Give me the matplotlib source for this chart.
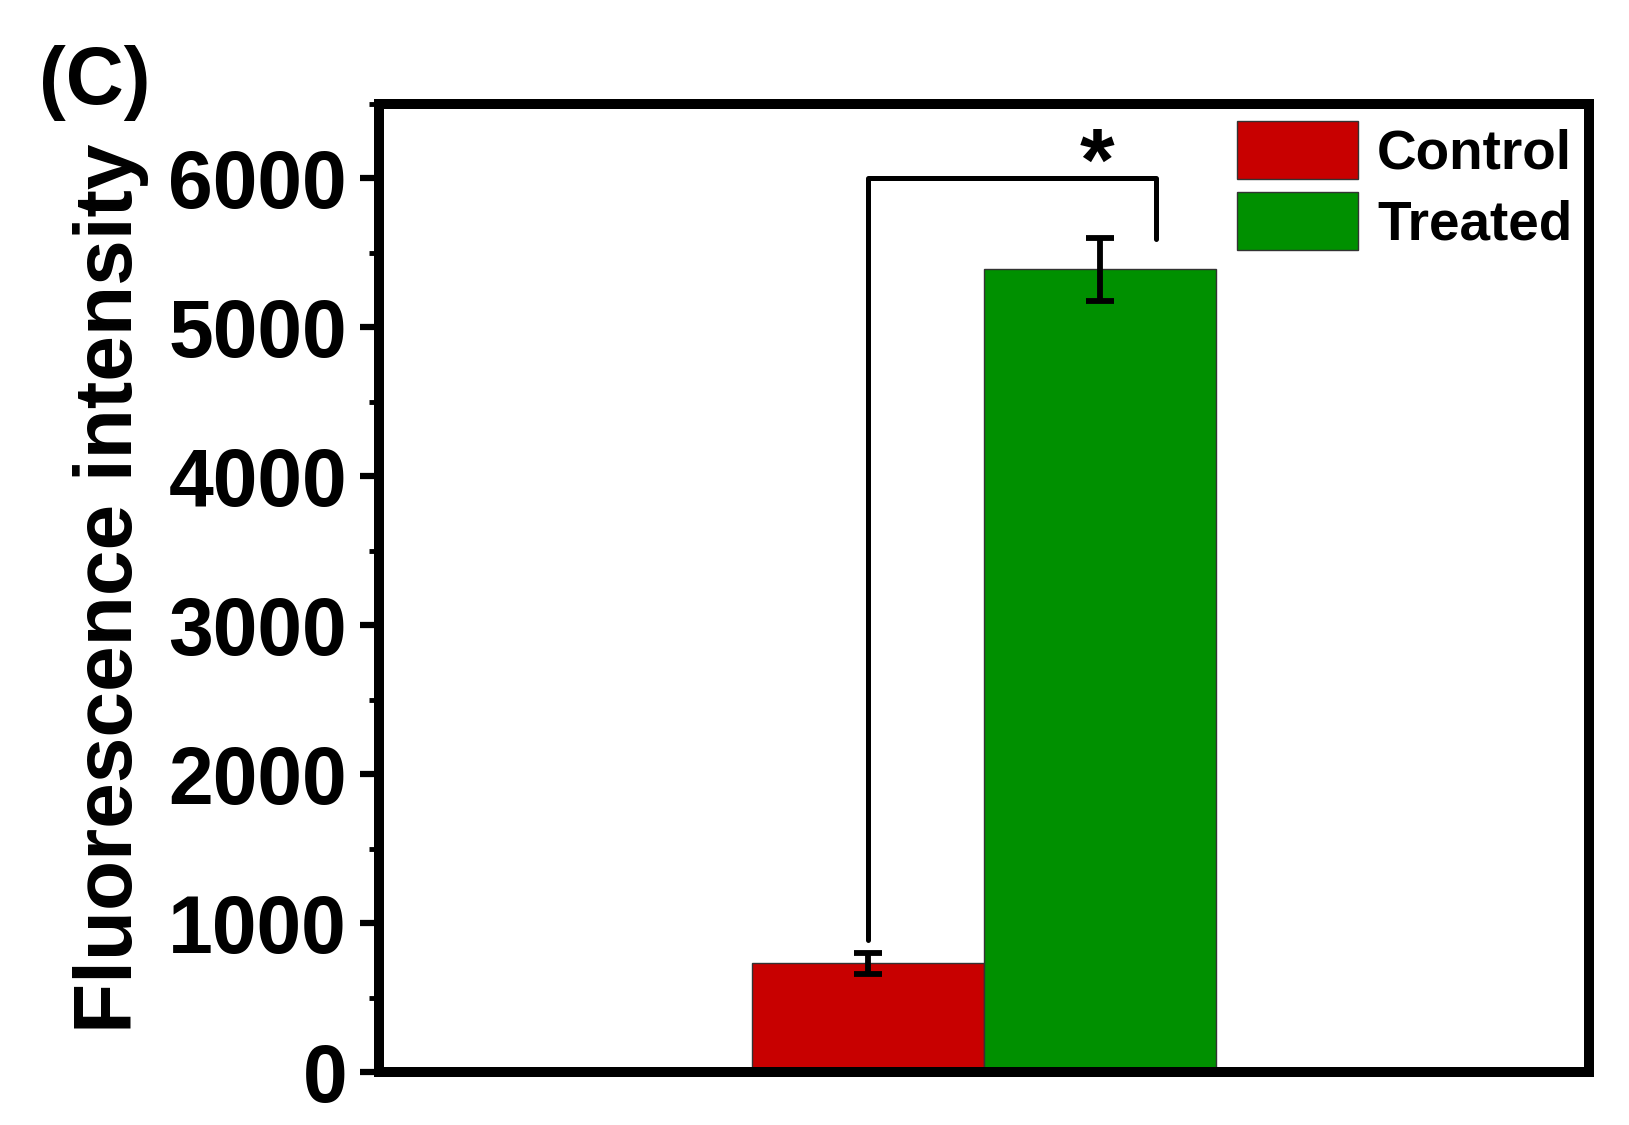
import matplotlib
matplotlib.use("Agg")
import matplotlib.pyplot as plt
from matplotlib.ticker import MultipleLocator

# ---- data ----
groups = ["Control", "Treated"]
means = [730, 5390]
errors = [70, 210]
bar_colors = ["#C80000", "#009000"]
yticks = [0, 1000, 2000, 3000, 4000, 5000, 6000]
ylabel = "Fluorescence intensity"
panel = "(C)"
sig_label = "*"
# significance bracket: left leg bottom, top, right leg bottom (data units)
bracket_left_bottom = 886
bracket_top = 6000
bracket_right_bottom = 5590

plt.rcParams["font.family"] = ["Liberation Sans", "DejaVu Sans"]
plt.rcParams["font.weight"] = "bold"

fig = plt.figure(figsize=(16.29, 11.25), dpi=100)
ax = fig.add_axes([0.2327, 0.047, 0.743, 0.8606])

width = 0.383
xpos = [-width / 2, width / 2]
for x, m, e, c, g in zip(xpos, means, errors, bar_colors, groups):
    ax.bar(x, m, width=width, color=c, edgecolor="#333333", linewidth=1.0,
           label=g, zorder=2)
    ax.errorbar(x, m, yerr=e, fmt="none", ecolor="black", elinewidth=4.2,
                capsize=10, capthick=4.2, zorder=3)

# significance bracket
xl = xpos[0]
xr = xpos[1] + 0.092
ax.plot([xl, xl, xr, xr],
        [bracket_left_bottom, bracket_top, bracket_top, bracket_right_bottom],
        color="black", linewidth=3.6, solid_joinstyle="round",
        solid_capstyle="round", zorder=3)
ax.text(xpos[1] - 0.005, bracket_top + 80, sig_label, ha="center",
        va="center", fontsize=64, fontweight="bold")

ax.set_xlim(-1, 1)
ax.set_ylim(0, 6500)
ax.set_yticks(yticks)
ax.set_yticklabels([str(t) for t in yticks])
ax.yaxis.set_minor_locator(MultipleLocator(500))
ax.set_xticks([])

for s in ax.spines.values():
    s.set_linewidth(7.2)
ax.tick_params(axis="y", which="major", direction="out", length=14,
               width=4.5, labelsize=58, pad=9)
ax.tick_params(axis="y", which="minor", direction="out", length=7,
               width=3.5)
for lbl in ax.get_yticklabels():
    lbl.set_fontweight("bold")

ax.set_ylabel(ylabel, fontsize=59, fontweight="bold")
ax.yaxis.set_label_coords(-0.19, 0.5)

leg = ax.legend(loc="upper right", fontsize=39.5, frameon=False,
                handlelength=2.2, handleheight=1.25, handletextpad=0.35,
                labelspacing=0.22, borderaxespad=0.0, borderpad=0.2,
                bbox_to_anchor=(0.995, 0.994))
for t in leg.get_texts():
    t.set_fontweight("bold")

fig.text(0.024, 0.926, panel, fontsize=58, fontweight="bold",
         ha="left", va="center")

fig.savefig("out.png", dpi=100)
